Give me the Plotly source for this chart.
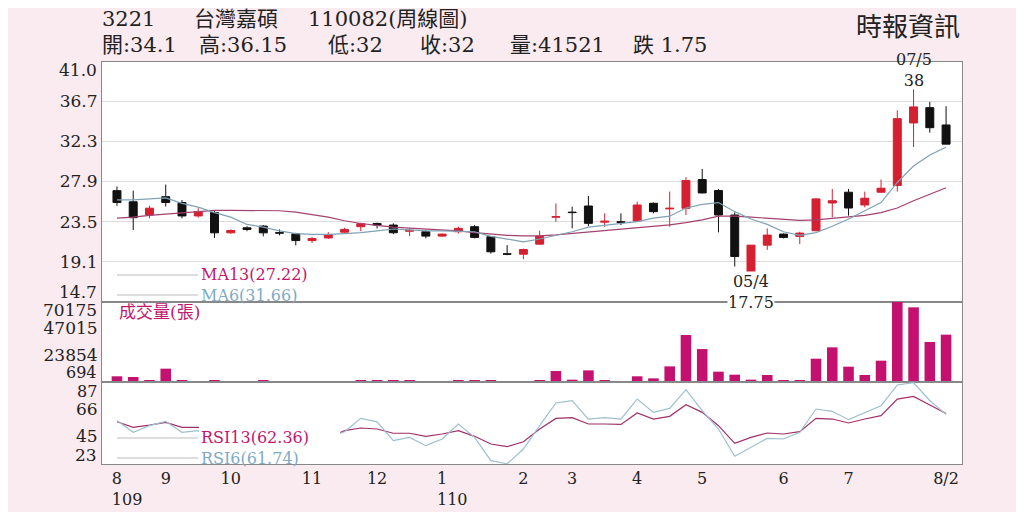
import plotly.graph_objects as go
from plotly.subplots import make_subplots

# weekly categories: year/month/week-of-month
weeks = [
    "109/08/2", "109/08/3", "109/08/4",
    "109/09/1", "109/09/2", "109/09/3", "109/09/4",
    "109/10/1", "109/10/2", "109/10/3", "109/10/4", "109/10/5",
    "109/11/1", "109/11/2", "109/11/3", "109/11/4",
    "109/12/1", "109/12/2", "109/12/3", "109/12/4",
    "110/01/1", "110/01/2", "110/01/3", "110/01/4", "110/01/5",
    "110/02/1", "110/02/2", "110/02/3",
    "110/03/1", "110/03/2", "110/03/3", "110/03/4",
    "110/04/1", "110/04/2", "110/04/3", "110/04/4",
    "110/05/1", "110/05/2", "110/05/3", "110/05/4", "110/05/5",
    "110/06/1", "110/06/2", "110/06/3", "110/06/4",
    "110/07/1", "110/07/2", "110/07/3", "110/07/4", "110/07/5",
    "110/08/1", "110/08/2",
]

opens = [26.9, 25.68, 24.24, 26.24, 25.6, 24.13, 24.5, 22.28, 22.83, 23.02,
         22.3, 22.17, 21.43, 21.72, 22.35, 22.95, 23.31, 23.13, 22.45, 22.4,
         21.92, 22.4, 22.95, 21.85, 19.98, 19.94, 21.04, 24.0, 24.55, 25.22,
         23.45, 23.5, 23.57, 25.52, 24.9, 24.97, 28.12, 26.91, 24.23, 17.9,
         20.93, 22.14, 21.89, 22.51, 25.55, 26.73, 25.33, 26.73, 27.46, 34.32,
         36.0, 34.1]
highs = [27.35, 26.9, 25.24, 27.57, 25.87, 24.98, 24.68, 22.65, 23.0, 23.13,
         22.65, 22.28, 21.83, 22.35, 22.83, 23.39, 23.39, 23.32, 22.77, 22.58,
         22.21, 22.95, 23.13, 21.92, 20.93, 20.56, 22.5, 25.5, 25.15, 26.33,
         24.42, 24.42, 25.7, 25.6, 26.8, 28.38, 29.29, 27.09, 24.53, 20.95,
         22.77, 22.22, 22.4, 26.05, 27.09, 27.09, 26.8, 28.12, 35.71, 38.0,
         36.63, 36.15]
lows = [25.24, 22.58, 23.87, 25.17, 23.87, 23.94, 21.72, 22.17, 22.46, 21.9,
        22.0, 20.9, 21.17, 21.6, 22.17, 22.46, 22.76, 22.14, 21.92, 21.67,
        21.85, 22.21, 21.67, 20.0, 19.83, 19.4, 21.0, 23.5, 22.77, 23.02,
        22.95, 23.13, 23.5, 24.42, 22.95, 24.23, 26.6, 22.33, 18.59, 17.75,
        20.42, 21.67, 21.04, 22.45, 23.98, 24.16, 25.07, 26.65, 26.8, 31.68,
        33.25, 32.0]
closes = [25.6, 23.94, 24.98, 25.6, 24.13, 24.61, 22.28, 22.54, 22.65, 22.28,
          22.25, 21.43, 21.65, 22.1, 22.65, 23.28, 23.13, 22.29, 22.55, 21.92,
          22.14, 22.77, 21.78, 20.2, 19.94, 20.45, 21.92, 24.05, 24.5, 23.32,
          23.55, 23.43, 25.33, 24.6, 24.97, 28.01, 26.65, 24.23, 19.69, 20.93,
          22.03, 21.78, 22.25, 26.0, 25.8, 25.0, 26.07, 27.17, 34.79, 36.08,
          33.8, 32.0]

ma13 = [23.9, 24.0, 24.2, 24.35, 24.5, 24.65, 24.75, 24.75, 24.75, 24.75,
        24.7, 24.55, 24.3, 24.0, 23.6, 23.3, 23.1, 22.9, 22.8, 22.7,
        22.6, 22.5, 22.3, 22.15, 22.0, 21.95, 21.95, 22.05, 22.2, 22.35,
        22.5, 22.65, 22.8, 23.0, 23.15, 23.4, 23.7, 24.1, 24.1, 24.0,
        23.9, 23.8, 23.65, 23.7, 23.85, 24.0, 24.2, 24.5, 25.0, 25.8,
        26.5, 27.22]
ma6 = [25.9, 25.9, 26.0, 26.1, 25.5, 25.1, 24.5, 24.0, 23.2, 22.9,
       22.5, 22.2, 22.1, 22.1, 22.2, 22.3, 22.5, 22.7, 22.6, 22.5,
       22.5, 22.45, 22.4, 21.9, 21.6, 21.3, 21.6, 22.0, 22.4, 22.9,
       23.1, 23.3, 23.5, 23.9, 24.1, 25.0, 25.4, 25.6, 24.6, 23.8,
       23.2, 22.4, 22.0, 22.3, 23.0, 23.8, 24.7, 25.6, 27.8, 29.6,
       30.8, 31.66]

volume = [5000, 4400, 1200, 11700, 1500, 500, 900, 400, 400, 1200,
          400, 400, 300, 300, 400, 1200, 1200, 1200, 900, 600,
          400, 1200, 1200, 900, 400, 300, 1750, 9650, 2050, 10200,
          900, 600, 5000, 3200, 13700, 41200, 28900, 9060, 6430, 2050,
          6140, 900, 900, 20460, 30400, 13450, 6140, 18700, 70175, 65500,
          35100, 41521]

rsi13 = [56, 51.6, 53.4, 55.5, 51.6, 51.6, 44, 42, 43, 41,
         40, 37, 39, 43, 49, 51.1, 50.3, 47, 47, 44.6,
         46.4, 49, 44.6, 38.6, 36.5, 40.4, 50.3, 58.6, 59.2, 54.2,
         54.2, 53.9, 62.8, 58.1, 60.2, 69.3, 63.3, 52.9, 39.1, 43.8,
         47.2, 46.4, 48.2, 58.6, 58.1, 55, 58.1, 60.7, 73.7, 75.8,
         69, 62.36]
rsi6 = [57, 47.7, 52.9, 56.3, 47.7, 49, 38, 40, 41, 37,
        36, 32, 37, 44, 48.2, 58.6, 55.9, 41.2, 43.8, 37.3,
        42.5, 54.1, 43.8, 25.6, 23.2, 34.7, 52.9, 70.6, 72.4, 58.1,
        59.2, 58.1, 73.7, 63.3, 66.4, 81, 64.6, 50.3, 29, 36,
        43, 42.5, 47.7, 65.9, 64.1, 57.6, 63.3, 68.5, 84.7, 86.5,
        72.4, 61.74]

month_ticks = ["109/08/2", "109/09/1", "109/10/1", "109/11/1", "109/12/1",
               "110/01/1", "110/02/1", "110/03/1", "110/04/1", "110/05/1",
               "110/06/1", "110/07/1", "110/08/2"]
NB4 = "\u00a0" * 4
month_text = ["8<br>" + NB4 + "109", "9", "10", "11", "12", "1<br>" + NB4 + "110",
              "2", "3", "4", "5", "6", "7", "8/2"]

price_ticks = [36.7, 32.3, 27.9, 23.5, 19.1]
vol_ticks = [23854, 47015]
rsi_ticks = [45, 66]

# header pieces: (text, left x in screen px)
header_top = [("3221", 100), ("台灣嘉碩", 192), ("110082(周線圖)", 306)]
header_quote = [("開:34.1", 100), ("高:36.15", 197), ("低:32", 326),
                ("收:32", 418), ("量:41521", 508), ("跌 1.75", 631)]

# the page body adds an 8px offset, so work in screen pixels minus that
OFF = 8
L, R, T, B = 102 - OFF, 962 - OFF, 62 - OFF, 464 - OFF


def px_x(px):
    return (px - OFF - L) / (R - L)


def px_y(py):
    return (B - (py - OFF)) / (B - T)


SERIF = "DejaVu Serif, Noto Sans CJK TC"
MAGENTA = "#c2176f"
BLUE = "#80aac6"

fig = make_subplots(rows=3, cols=1, shared_xaxes=True, vertical_spacing=0,
                    row_heights=[240, 80, 82])

fig.add_trace(go.Candlestick(
    x=weeks, open=opens, high=highs, low=lows, close=closes,
    increasing=dict(line=dict(color="#d42030", width=1), fillcolor="#d42030"),
    decreasing=dict(line=dict(color="#111111", width=1), fillcolor="#111111"),
    hoverinfo="skip"), row=1, col=1)
fig.add_trace(go.Scatter(x=weeks, y=ma13, mode="lines",
                         line=dict(color="#a3416f", width=1.2)), row=1, col=1)
fig.add_trace(go.Scatter(x=weeks, y=ma6, mode="lines",
                         line=dict(color="#7fa2b6", width=1.2)), row=1, col=1)

fig.add_trace(go.Bar(x=weeks, y=volume, marker_color="#c4106e",
                     marker_line_width=0), row=2, col=1)

fig.add_trace(go.Scatter(x=weeks, y=rsi13, mode="lines",
                         line=dict(color="#a0306a", width=1.2)), row=3, col=1)
fig.add_trace(go.Scatter(x=weeks, y=rsi6, mode="lines",
                         line=dict(color="#9dbfce", width=1.2)), row=3, col=1)

tickfont = dict(family=SERIF, size=17, color="#222222")

fig.update_xaxes(type="category", range=[-0.92, 51.98], showgrid=False,
                 showline=True, mirror=True, linecolor="#888888", linewidth=1,
                 rangeslider_visible=False, tickvals=month_ticks,
                 ticktext=month_text, tickfont=tickfont, ticks="")
fig.update_xaxes(showticklabels=False, row=1, col=1)
fig.update_xaxes(showticklabels=False, row=2, col=1)
fig.update_xaxes(tickfont_size=16, row=3, col=1)

fig.update_yaxes(showline=True, mirror=True, linecolor="#888888", linewidth=1,
                 zeroline=False, tickfont=tickfont, ticks="")
fig.update_yaxes(range=[14.7, 41.0], tickvals=price_ticks,
                 ticktext=[f"{v:.1f}" for v in price_ticks],
                 showgrid=True, gridcolor="#dddddd", row=1, col=1)
fig.update_yaxes(range=[0, 70175], tickvals=vol_ticks,
                 ticktext=[str(v) for v in vol_ticks],
                 showgrid=False, row=2, col=1)
fig.update_yaxes(range=[23, 87], tickvals=rsi_ticks,
                 ticktext=[str(v) for v in rsi_ticks],
                 showgrid=False, row=3, col=1)


def ann(text, x, y, xref="paper", yref="paper", xanchor="left",
        yanchor="middle", size=17, color="#222222", **kw):
    fig.add_annotation(text=text, x=x, y=y, xref=xref, yref=yref,
                       xanchor=xanchor, yanchor=yanchor, showarrow=False,
                       font=dict(family=SERIF, size=size, color=color), **kw)


# header
for text, px in header_top:
    ann(text, px_x(px), px_y(19), size=21)
for text, px in header_quote:
    ann(text, px_x(px), px_y(45), size=21)
ann("時報資訊", px_x(962), px_y(27), xanchor="right", size=26)

# end tick labels pushed inside the panels
ann("41.0", 0, 41.0, yref="y", xanchor="right", xshift=-3, yshift=-8)
ann("14.7", 0, 14.7, yref="y", xanchor="right", xshift=-3, yshift=10)
ann("70175", 0, 70175, yref="y2", xanchor="right", xshift=-3, yshift=-8)
ann("694", 0, 694, yref="y2", xanchor="right", xshift=-3, yshift=9, size=16)
ann("87", 0, 87, yref="y3", xanchor="right", xshift=-3, yshift=-9, size=16)
ann("23", 0, 23, yref="y3", xanchor="right", xshift=-3, yshift=9)

# high / low marks (two-line labels)
ann("07/5<br>38", weeks[49], 38.0, xref="x", yref="y", xanchor="center",
    yanchor="bottom", yshift=-3, size=16)
ann("05/4<br>17.75", weeks[39], 17.75, xref="x", yref="y", xanchor="center",
    yanchor="top", yshift=3, size=16, bgcolor="white", borderpad=0)

# cover box behind the RSI labels
fig.add_shape(type="rect", xref="paper", yref="paper", x0=px_x(199), x1=px_x(340),
              y0=px_y(463.5), y1=px_y(426), fillcolor="white", line_width=0,
              layer="above")

# indicator labels (two coloured lines each) with legend strokes
for (t1, t2), py in [(("MA13(27.22)", "MA6(31.66)"), 285),
                     (("RSI13(62.36)", "RSI6(61.74)"), 448)]:
    for dy in (-10, 10):
        fig.add_shape(type="line", xref="paper", yref="paper", x0=px_x(117),
                      x1=px_x(198), y0=px_y(py + dy), y1=px_y(py + dy),
                      line=dict(color="#bbbbbb", width=1), layer="above")
    ann(f"<span style='color:{MAGENTA}'>{t1}</span><br>"
        f"<span style='color:{BLUE}'>{t2}</span>",
        px_x(199), px_y(py), size=16, align="left")

ann("成交量(張)", px_x(117), px_y(312), color=MAGENTA)

fig.update_layout(
    width=1024, height=512,
    margin=dict(l=L, r=1024 - R, t=T, b=512 - B),
    paper_bgcolor="#faebf0", plot_bgcolor="white",
    showlegend=False, bargap=0.35, boxgap=0.3,
    hovermode=False,
)

fig.write_html("out.html")
